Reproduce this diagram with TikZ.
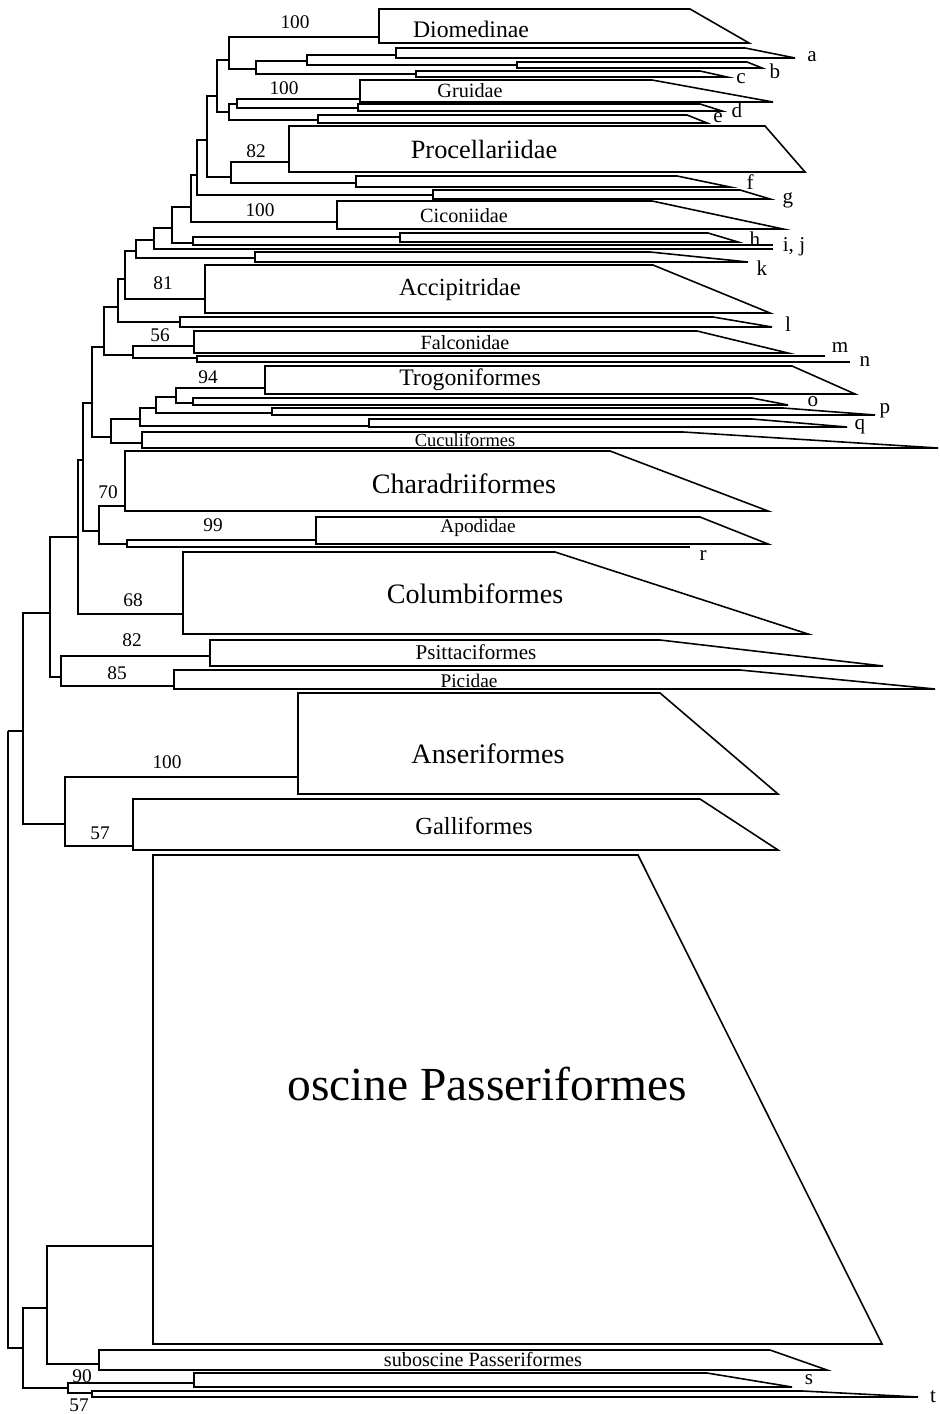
\documentclass[tikz,border=0pt]{standalone}
\usepackage{fontspec}
\setmainfont{Liberation Serif}
\usepackage{tikz}
\tikzset{
  branch/.style={line width=0.9pt, color=black},
  clade/.style={line width=0.9pt, color=black, line join=miter},
  taxon/.style={inner sep=0pt, font=\fontsize{11.5}{12}\selectfont},
  tiplbl/.style={inner sep=0pt, font=\fontsize{12}{13}\selectfont},
  boot/.style={inner sep=0pt, font=\fontsize{11}{12}\selectfont}
}

\begin{document}
\begin{tikzpicture}[x=0.2mm, y=-0.2mm]
  \useasboundingbox (0,0) rectangle (940,1414);

  % Collapsed clades
  \draw[clade] (379,9) -- (690,9) -- (749,43) -- (379,43) -- cycle;          % Diomedinae
  \draw[clade] (396,48) -- (745,48) -- (795,58) -- (396,58) -- cycle;        % a
  \draw[clade] (517,62) -- (747,62) -- (762,68) -- (517,68) -- cycle;        % b
  \draw[clade] (416,71) -- (700,71) -- (727,77) -- (416,77) -- cycle;        % c
  \draw[clade] (360,80) -- (652,80) -- (773,102) -- (360,102) -- cycle;      % Gruidae
  \draw[clade] (358,104) -- (700,104) -- (722,111) -- (358,111) -- cycle;    % d
  \draw[clade] (318,115) -- (687,115) -- (707,123) -- (318,123) -- cycle;    % e
  \draw[clade] (289,126) -- (765,126) -- (805,172) -- (289,172) -- cycle;    % Procellariidae
  \draw[clade] (356,176) -- (677,176) -- (730,187) -- (356,187) -- cycle;    % f
  \draw[clade] (433,190) -- (740,190) -- (770,199) -- (433,199) -- cycle;    % g
  \draw[clade] (337,201) -- (652,201) -- (783,229) -- (337,229) -- cycle;    % Ciconiidae
  \draw[clade] (400,233) -- (708,233) -- (738,242) -- (400,242) -- cycle;    % h
  \draw[clade] (255,252) -- (650,252) -- (748,262) -- (255,262) -- cycle;    % k
  \draw[clade] (205,265) -- (653,265) -- (770,313) -- (205,313) -- cycle;    % Accipitridae
  \draw[clade] (180,317) -- (713,317) -- (772,327) -- (180,327) -- cycle;    % l
  \draw[clade] (194,331) -- (697,331) -- (788,353) -- (194,353) -- cycle;    % Falconidae
  \draw[clade] (265,366) -- (792,366) -- (855,394) -- (265,394) -- cycle;    % Trogoniformes
  \draw[clade] (193,398) -- (752,398) -- (788,405) -- (193,405) -- cycle;    % o
  \draw[clade] (272,408) -- (783,408) -- (875,415) -- (272,415) -- cycle;    % p
  \draw[clade] (369,419) -- (752,419) -- (847,427) -- (369,427) -- cycle;    % q
  \draw[clade] (142,432) -- (683,432) -- (938,448) -- (142,448) -- cycle;    % Cuculiformes
  \draw[clade] (125,451) -- (610,451) -- (768,511) -- (125,511) -- cycle;    % Charadriiformes
  \draw[clade] (316,517) -- (700,517) -- (768,544) -- (316,544) -- cycle;    % Apodidae
  \draw[clade] (183,552) -- (555,552) -- (808,634) -- (183,634) -- cycle;    % Columbiformes
  \draw[clade] (210,640) -- (660,640) -- (883,666) -- (210,666) -- cycle;    % Psittaciformes
  \draw[clade] (174,670) -- (740,670) -- (935,689) -- (174,689) -- cycle;    % Picidae
  \draw[clade] (298,693) -- (660,693) -- (778,794) -- (298,794) -- cycle;    % Anseriformes
  \draw[clade] (133,799) -- (700,799) -- (778,850) -- (133,850) -- cycle;    % Galliformes
  \draw[clade] (153,855) -- (638,855) -- (882,1344) -- (153,1344) -- cycle;  % oscine
  \draw[clade] (99,1350) -- (770,1350) -- (827,1370) -- (99,1370) -- cycle;  % suboscine
  \draw[clade] (194,1373) -- (707,1373) -- (792,1387) -- (194,1387) -- cycle;% s
  \draw[clade] (92,1391) -- (803,1391) -- (918,1397) -- (92,1397) -- cycle;  % t

  % Branch ends of the clades
  \coordinate (cDiom) at (379,37);
  \coordinate (ca) at (396,55);
  \coordinate (cb) at (517,65);
  \coordinate (cc) at (416,74);
  \coordinate (cGrui) at (360,99);
  \coordinate (cd) at (358,108);
  \coordinate (ce) at (318,120);
  \coordinate (cProc) at (289,162);
  \coordinate (cf) at (356,183);
  \coordinate (cg) at (433,195);
  \coordinate (cCico) at (337,222);
  \coordinate (ch) at (400,237);
  \coordinate (ci) at (773,245);
  \coordinate (cj) at (773,249);
  \coordinate (ck) at (255,258);
  \coordinate (cAcci) at (205,299);
  \coordinate (cl) at (180,322);
  \coordinate (cFalc) at (194,346);
  \coordinate (cm) at (825,356);
  \coordinate (cn) at (850,362);
  \coordinate (cTrog) at (265,388);
  \coordinate (co) at (193,403);
  \coordinate (cp) at (272,413);
  \coordinate (cq) at (369,426);
  \coordinate (cCucu) at (142,443);
  \coordinate (cChar) at (125,506);
  \coordinate (cApod) at (316,540);
  \coordinate (cr) at (690,547);
  \coordinate (cColu) at (183,614);
  \coordinate (cPsit) at (210,656);
  \coordinate (cPici) at (174,686);
  \coordinate (cAnse) at (298,777);
  \coordinate (cGall) at (133,846);
  \coordinate (cOsci) at (153,1246);
  \coordinate (cSubo) at (99,1364);
  \coordinate (cs) at (194,1383);
  \coordinate (ct) at (92,1393);

  % Internal nodes
  \coordinate (nC) at (307,61);
  \coordinate (nB) at (256,69);
  \coordinate (nA) at (229,60);
  \coordinate (nD) at (237,104);
  \coordinate (nE) at (229,112);
  \coordinate (nF) at (217,96);
  \coordinate (nG) at (231,177);
  \coordinate (nH) at (207,140);
  \coordinate (nI) at (197,175);
  \coordinate (nJ) at (191,207);
  \coordinate (nL) at (193,243);
  \coordinate (nK) at (172,228);
  \coordinate (nM) at (154,240);
  \coordinate (nN) at (136,251);
  \coordinate (nO) at (125,279);
  \coordinate (nP) at (118,307);
  \coordinate (nR) at (197,358);
  \coordinate (nQ) at (133,355);
  \coordinate (nX) at (104,347);
  \coordinate (nS) at (176,397);
  \coordinate (nT) at (156,408);
  \coordinate (nU) at (140,419);
  \coordinate (nV) at (111,437);
  \coordinate (nW) at (92,403);
  \coordinate (nAB) at (127,544);
  \coordinate (nAA) at (99,531);
  \coordinate (nY) at (83,460);
  \coordinate (nZ) at (78,537);
  \coordinate (nAC) at (61,677);
  \coordinate (nAD) at (50,613);
  \coordinate (nAF) at (65,824);
  \coordinate (nAE) at (23,731);
  \coordinate (nAH) at (47,1308);
  \coordinate (nAI) at (68,1388);
  \coordinate (nAG) at (23,1348);
  \coordinate (root) at (8,731);

  % Branches
  \draw[branch] (nC) |- (ca) (nC) |- (cb);
  \draw[branch] (nB) |- (nC) (nB) |- (cc);
  \draw[branch] (nA) |- (cDiom) (nA) |- (nB);
  \draw[branch] (nD) |- (cGrui) (nD) |- (cd);
  \draw[branch] (nE) |- (nD) (nE) |- (ce);
  \draw[branch] (nF) |- (nA) (nF) |- (nE);
  \draw[branch] (nG) |- (cProc) (nG) |- (cf);
  \draw[branch] (nH) |- (nF) (nH) |- (nG);
  \draw[branch] (nI) |- (nH) (nI) |- (cg);
  \draw[branch] (nJ) |- (nI) (nJ) |- (cCico);
  \draw[branch] (nL) |- (ch) (nL) |- (ci);
  \draw[branch] (nK) |- (nJ) (nK) |- (nL);
  \draw[branch] (nM) |- (nK) (nM) |- (cj);
  \draw[branch] (nN) |- (nM) (nN) |- (ck);
  \draw[branch] (nO) |- (nN) (nO) |- (cAcci);
  \draw[branch] (nP) |- (nO) (nP) |- (cl);
  \draw[branch] (nR) |- (cm) (nR) |- (cn);
  \draw[branch] (nQ) |- (cFalc) (nQ) |- (nR);
  \draw[branch] (nX) |- (nP) (nX) |- (nQ);
  \draw[branch] (nS) |- (cTrog) (nS) |- (co);
  \draw[branch] (nT) |- (nS) (nT) |- (cp);
  \draw[branch] (nU) |- (nT) (nU) |- (cq);
  \draw[branch] (nV) |- (nU) (nV) |- (cCucu);
  \draw[branch] (nW) |- (nX) (nW) |- (nV);
  \draw[branch] (nAB) |- (cApod) (nAB) |- (cr);
  \draw[branch] (nAA) |- (cChar) (nAA) |- (nAB);
  \draw[branch] (nY) |- (nW) (nY) |- (nAA);
  \draw[branch] (nZ) |- (nY) (nZ) |- (cColu);
  \draw[branch] (nAC) |- (cPsit) (nAC) |- (cPici);
  \draw[branch] (nAD) |- (nZ) (nAD) |- (nAC);
  \draw[branch] (nAF) |- (cAnse) (nAF) |- (cGall);
  \draw[branch] (nAE) |- (nAD) (nAE) |- (nAF);
  \draw[branch] (nAH) |- (cOsci) (nAH) |- (cSubo);
  \draw[branch] (nAI) |- (cs) (nAI) |- (ct);
  \draw[branch] (nAG) |- (nAH) (nAG) |- (nAI);
  \draw[branch] (root) |- (nAE) (root) |- (nAG);

  % Clade names
  \node[taxon, font=\fontsize{13.5}{14}\selectfont] (tDiom) at (471,29) {Diomedinae};
  \node[taxon] (tGrui) at (470,91) {Gruidae};
  \node[taxon, font=\fontsize{15}{16}\selectfont] (tProc) at (484,149) {Procellariidae};
  \node[taxon] (tCico) at (464,216) {Ciconiidae};
  \node[taxon, font=\fontsize{14}{15}\selectfont] (tAcci) at (460,290) {Accipitridae};
  \node[taxon] (tFalc) at (465,343) {Falconidae};
  \node[taxon, font=\fontsize{13.5}{14}\selectfont] (tTrog) at (470,380) {Trogoniformes};
  \node[taxon, font=\fontsize{10.5}{11}\selectfont] (tCucu) at (465,440) {Cuculiformes};
  \node[taxon, font=\fontsize{16}{17}\selectfont] (tChar) at (464,484) {Charadriiformes};
  \node[taxon, font=\fontsize{11}{12}\selectfont] (tApod) at (478,528) {Apodidae};
  \node[taxon, font=\fontsize{16}{17}\selectfont] (tColu) at (475,594) {Columbiformes};
  \node[taxon, font=\fontsize{12}{13}\selectfont] (tPsit) at (476,652) {Psittaciformes};
  \node[taxon, font=\fontsize{11}{12}\selectfont] (tPici) at (469,681) {Picidae};
  \node[taxon, font=\fontsize{16}{17}\selectfont] (tAnse) at (488,754) {Anseriformes};
  \node[taxon, font=\fontsize{14}{15}\selectfont] (tGall) at (474,826) {Galliformes};
  \node[taxon, font=\fontsize{27}{28}\selectfont] (tOsci) at (487,1084) {oscine Passeriformes};
  \node[taxon] (tSubo) at (483,1359) {suboscine Passeriformes};

  % Tip letters
  \node[tiplbl] (la) at (812,57) {a};
  \node[tiplbl] (lb) at (775,71) {b};
  \node[tiplbl] (lc) at (741,79) {c};
  \node[tiplbl] (ld) at (737,110) {d};
  \node[tiplbl] (le) at (718,118) {e};
  \node[tiplbl] (lf) at (750,182) {f};
  \node[tiplbl] (lg) at (788,200) {g};
  \node[tiplbl] (lh) at (755,239) {h};
  \node[tiplbl] (lij) at (794,247) {i, j};
  \node[tiplbl] (lk) at (762,268) {k};
  \node[tiplbl] (ll) at (788,324) {l};
  \node[tiplbl] (lm) at (840,348) {m};
  \node[tiplbl] (ln) at (865,362) {n};
  \node[tiplbl] (lo) at (813,402) {o};
  \node[tiplbl] (lp) at (885,411) {p};
  \node[tiplbl] (lq) at (860,427) {q};
  \node[tiplbl] (lr) at (703,556) {r};
  \node[tiplbl] (ls) at (809,1380) {s};
  \node[tiplbl] (lt) at (933,1397) {t};

  % Bootstrap values
  \node[boot] (b1) at (295,22) {100};
  \node[boot] (b2) at (284,88) {100};
  \node[boot] (b3) at (256,151) {82};
  \node[boot] (b4) at (260,210) {100};
  \node[boot] (b5) at (163,283) {81};
  \node[boot] (b6) at (160,335) {56};
  \node[boot] (b7) at (208,377) {94};
  \node[boot] (b8) at (108,492) {70};
  \node[boot] (b9) at (213,525) {99};
  \node[boot] (b10) at (133,600) {68};
  \node[boot] (b11) at (132,640) {82};
  \node[boot] (b12) at (117,673) {85};
  \node[boot] (b13) at (167,762) {100};
  \node[boot] (b14) at (100,833) {57};
  \node[boot] (b15) at (82,1376) {90};
  \node[boot] (b16) at (79,1405) {57};
\end{tikzpicture}
\end{document}
